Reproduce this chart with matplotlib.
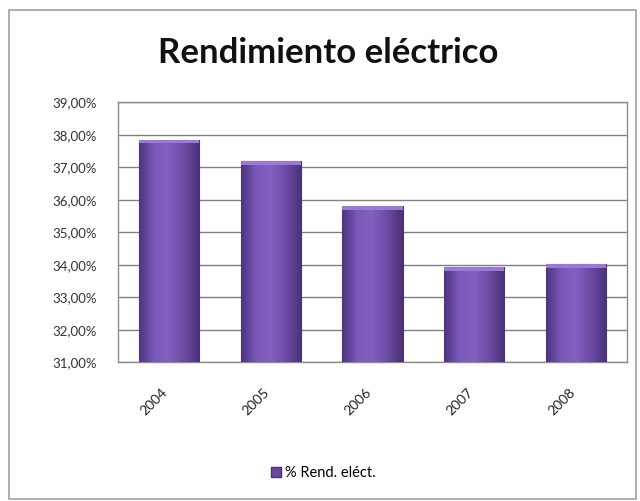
import matplotlib.pyplot as plt
import numpy as np
from matplotlib.colors import LinearSegmentedColormap
from matplotlib.patches import Rectangle, Patch
from matplotlib.ticker import FuncFormatter, MultipleLocator
from matplotlib.transforms import ScaledTranslation

years = ["2004", "2005", "2006", "2007", "2008"]
rend = [37.85, 37.2, 35.8, 33.92, 34.02]
series_name = "% Rend. eléct."

plt.rcParams['font.family'] = ['Lato', 'DejaVu Sans']

fig = plt.figure(figsize=(6.4, 5.01), dpi=100)
ax = fig.add_axes([0.184, 0.277, 0.796, 0.519])

bars = ax.bar(years, rend, width=0.59, bottom=0, color='#7352ad',
              edgecolor='#4a3270', linewidth=0.8, zorder=3)

# horizontal shading on each bar
cmap = LinearSegmentedColormap.from_list('bar', ['#4e3580', '#7a59b9', '#8060c0', '#6b4ba3', '#4a3278'])
grad = np.linspace(0, 1, 64).reshape(1, -1)
for b in bars:
    x0, w, h = b.get_x(), b.get_width(), b.get_height()
    im = ax.imshow(grad, cmap=cmap, aspect='auto', extent=[x0, x0 + w, 31, h], zorder=3.5)
    im.set_clip_path(b)
    ax.add_patch(Rectangle((x0, h - 0.12), w, 0.12, color='#9a7ad6', zorder=4, lw=0))

ax.set_ylim(31, 39)
ax.set_xlim(-0.5, 4.5)
ax.yaxis.set_major_locator(MultipleLocator(1))
ax.yaxis.set_major_formatter(FuncFormatter(lambda v, p: f"{v:.2f}%".replace('.', ',')))
ax.grid(True, axis='y', color='#808080', linewidth=1.0, zorder=0)
ax.tick_params(axis='y', length=0, labelsize=9.5, pad=15, colors='#333333')
ax.tick_params(axis='x', length=0, labelsize=10, pad=20, colors='#222222')
shift = ScaledTranslation(-0.03, 0, fig.dpi_scale_trans)
for lab in ax.get_xticklabels():
    lab.set_rotation(45)
    lab.set_ha('right')
    lab.set_va('center')
    lab.set_rotation_mode('anchor')
    lab.set_transform(lab.get_transform() + shift)
for s in ax.spines.values():
    s.set_color('#8c8c8c')
    s.set_linewidth(1.0)

fig.text(0.513, 0.895, "Rendimiento eléctrico", ha='center', va='center',
         fontsize=25, fontweight='bold', color='#111111')

fig.legend(handles=[Patch(facecolor='#6a4a9e', edgecolor='#4a3270')], labels=[series_name],
           loc='center', bbox_to_anchor=(0.505, 0.056), frameon=False, fontsize=10.5,
           handlelength=0.7, handleheight=0.7, handletextpad=0.3)

# outer chart frame
fig.patches.append(Rectangle((0.014, 0.004), 0.98, 0.976, transform=fig.transFigure,
                             fill=False, edgecolor='#a0a0a0', linewidth=1.2))

fig.savefig("out.png", dpi=100)
